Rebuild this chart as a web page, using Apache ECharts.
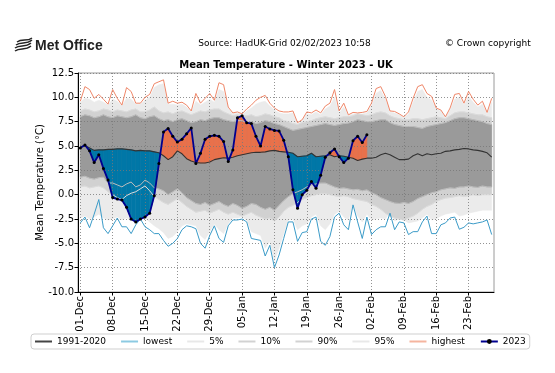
<!DOCTYPE html>
<html>
<head>
<meta charset="utf-8">
<script src="https://cdn.jsdelivr.net/npm/echarts@6/dist/echarts.min.js"></script>
<style>
html,body{margin:0;padding:0;background:#fff;}
#chart{width:555px;height:373px;}
</style>
</head>
<body>
<div id="chart"></div>
<script>
// ---------- DATA ----------
const monthNames = ['Dec', 'Jan', 'Feb'];
const monthLengths = [31, 31, 28];
const categories = [];
monthNames.forEach(function (m, k) {
  for (let d = 1; d <= monthLengths[k]; d++) categories.push((d < 10 ? '0' : '') + d + '-' + m);
});

const yTicks = [-10, -7.5, -5, -2.5, 0, 2.5, 5, 7.5, 10, 12.5];

// 1991-2020 average
const clim = [
  4.9, 5.05, 4.8, 4.55, 4.6, 4.6, 4.65, 4.65, 4.7, 4.7,
  4.65, 4.6, 4.5, 4.55, 4.5, 4.5, 4.4, 4.3, 4.0, 3.6,
  3.9, 4.5, 4.2, 3.7, 3.45, 3.3, 3.25, 3.25, 3.35, 3.6,
  3.7, 3.8, 3.75, 3.85, 4.0, 4.1, 4.2, 4.3, 4.35, 4.35,
  4.4, 4.5, 4.55, 4.45, 4.4, 4.35, 4.25, 3.9, 3.95, 4.0,
  4.25, 3.9, 3.95, 4.0, 4.1, 3.9, 4.0, 3.95, 3.85, 3.75,
  3.5, 3.65, 3.75, 3.75, 3.85, 4.1, 4.25, 4.1, 3.85, 3.6,
  3.6, 3.65, 4.0, 4.2, 4.0, 4.2, 4.1, 4.2, 4.25, 4.45,
  4.5, 4.6, 4.65, 4.75, 4.7, 4.6, 4.55, 4.45, 4.3, 3.85
];

// winter 2023 daily values (to 01-Feb)
const obs2023 = [
  4.8, 5.1, 4.5, 3.3, 4.1, 2.7, 1.5, -0.3, -0.45, -0.55,
  -1.3, -2.5, -2.8, -2.5, -2.3, -1.9, -0.1, 3.2, 6.45, 6.8,
  6.0, 5.4, 5.7, 6.25, 6.85, 3.2, 4.25, 5.7, 6.0, 6.1,
  6.0, 5.45, 3.4, 4.6, 7.9, 8.1, 7.4, 7.3, 6.0, 5.0,
  7.0, 6.75, 6.6, 6.55, 5.6, 3.9, 0.5, -1.4, 0.0, 0.45,
  1.35, 0.65, 2.0, 3.85, 4.3, 4.7, 3.9, 3.3, 3.75, 5.55,
  6.0, 5.35, 6.15
];

const highest = [
  9.6, 11.1, 10.8, 9.9, 10.3, 9.8, 9.3, 10.8, 9.9, 9.2,
  11.0, 10.6, 9.4, 9.4, 10.0, 10.3, 11.4, 11.6, 11.8, 9.4,
  9.6, 9.4, 9.5, 9.2, 8.6, 10.4, 9.4, 9.9, 10.4, 9.7,
  11.5, 11.3, 9.0, 8.4, 8.5, 8.3, 8.8, 9.2, 9.7, 10.0,
  10.2, 9.4, 8.9, 8.6, 8.5, 8.5, 8.6, 7.4, 7.7, 8.5,
  8.4, 8.7, 8.4, 9.1, 9.4, 10.8, 8.6, 9.4, 8.2, 8.45,
  8.4, 8.45, 8.55, 9.4, 10.9, 11.1, 10.1, 8.6, 8.55, 8.3,
  8.0, 8.5, 9.9, 11.1, 11.3, 10.4, 10.1, 8.9, 8.7, 8.0,
  8.9, 10.3, 10.4, 9.4, 10.6, 9.8, 9.2, 9.6, 8.45, 9.9
];

const lowest = [
  -2.9, -2.3, -3.4, -2.0, -0.5, -3.4, -4.0, -3.2, -2.4, -3.3,
  -3.3, -4.0, -3.1, -2.5, -3.3, -3.6, -4.0, -4.0, -4.7, -5.3,
  -5.0, -4.5, -3.6, -3.2, -3.3, -3.5, -5.0, -5.5, -4.2, -3.2,
  -4.5, -4.9, -3.2, -2.6, -2.6, -2.5, -2.8, -4.5, -4.6, -4.7,
  -6.3, -5.2, -7.5, -6.2, -4.5, -2.8, -2.8, -4.8, -3.9, -3.8,
  -2.5, -2.3, -4.8, -5.2, -4.3, -2.3, -1.9, -3.1, -3.6, -1.05,
  -2.8, -4.5, -2.3, -4.1, -3.6, -3.3, -3.3, -1.9, -3.6, -2.8,
  -2.9, -4.1, -3.8, -3.8, -2.8, -2.2, -4.0, -4.0, -3.1, -2.9,
  -2.4, -2.3, -3.55, -3.35, -2.9, -3.0, -2.9, -2.8, -2.6, -4.1
];

// outer (lightest) envelope
const rangeHigh = [
  9.5, 9.9, 9.8, 9.5, 9.7, 9.5, 9.2, 9.8, 9.6, 9.1,
  9.9, 9.8, 9.3, 9.3, 9.7, 10.0, 11.0, 11.3, 11.4, 9.3,
  9.3, 9.2, 9.3, 9.0, 8.5, 9.6, 9.2, 9.5, 9.8, 9.5,
  10.8, 10.6, 8.9, 8.3, 8.4, 8.2, 8.6, 8.9, 9.3, 9.5,
  9.6, 9.1, 8.7, 8.4, 8.3, 8.3, 8.4, 7.3, 7.6, 8.3,
  8.2, 8.5, 8.2, 8.8, 9.1, 10.0, 8.4, 9.0, 8.1, 8.3,
  8.3, 8.3, 8.4, 9.1, 10.4, 10.7, 9.8, 8.5, 8.4, 8.2,
  7.9, 8.3, 9.5, 10.6, 10.8, 10.0, 9.7, 8.8, 8.6, 7.9,
  8.7, 9.8, 10.0, 9.2, 10.1, 9.5, 9.0, 9.3, 8.3, 9.5
];
const rangeLow = [
  -2.4, -2.2, -2.5, -2.3, -2.0, -2.4, -2.6, -2.5, -2.3, -2.6,
  -2.4, -2.7, -2.5, -2.2, -2.4, -2.8, -3.2, -3.5, -3.9, -4.5,
  -4.3, -3.8, -3.2, -3.0, -3.1, -3.2, -4.2, -4.6, -3.8, -3.0,
  -3.6, -4.0, -3.0, -2.4, -2.4, -2.3, -2.6, -3.8, -4.0, -4.2,
  -5.5, -4.8, -6.8, -5.5, -4.0, -2.6, -2.5, -3.6, -3.2, -3.0,
  -2.3, -2.0, -3.2, -3.6, -3.0, -2.0, -1.7, -2.3, -2.6, -1.0,
  -2.2, -2.8, -2.0, -2.6, -2.5, -2.4, -2.5, -1.8, -2.7, -2.5,
  -2.6, -2.9, -2.8, -2.7, -2.4, -2.0, -2.6, -2.5, -2.2, -2.0,
  -1.9, -1.8, -2.2, -2.1, -1.9, -1.8, -1.7, -1.6, -1.6, -1.6
];

const p95 = [
  8.6, 8.8, 8.7, 8.5, 8.6, 8.8, 8.7, 8.5, 8.7, 8.6,
  8.5, 8.7, 8.8, 8.5, 8.5, 8.7, 9.0, 8.6, 8.4, 8.5,
  8.3, 8.5, 8.6, 8.4, 8.2, 8.4, 8.6, 8.5, 8.7, 8.8,
  8.8, 8.5, 8.3, 8.1, 8.2, 8.1, 8.1, 8.2, 8.0, 8.1,
  8.3, 8.2, 8.0, 7.9, 7.6, 7.5, 7.3, 7.2, 7.4, 7.5,
  7.6, 7.8, 7.9, 8.0, 7.9, 7.8, 7.9, 8.0, 8.0, 8.1,
  8.3, 8.2, 8.1, 8.2, 8.4, 8.5, 8.4, 8.1, 7.9, 7.8,
  7.7, 7.7, 7.8, 7.8, 7.7, 7.8, 7.9, 8.0, 7.9, 7.8,
  8.1, 8.4, 8.5, 8.5, 8.4, 8.3, 8.2, 8.2, 8.0, 7.9
];
const p90 = [
  8.0, 8.2, 8.1, 7.9, 8.0, 8.2, 8.0, 7.9, 8.1, 8.0,
  7.9, 8.0, 8.2, 7.9, 7.8, 8.0, 8.1, 7.8, 7.6, 7.7,
  7.5, 7.7, 7.8, 7.6, 7.4, 7.5, 7.7, 7.6, 7.8, 7.9,
  7.9, 7.7, 7.6, 7.5, 7.6, 7.6, 7.4, 7.5, 7.3, 7.4,
  7.6, 7.5, 7.3, 7.2, 7.0, 6.8, 6.6, 6.7, 6.8, 6.9,
  7.0, 7.1, 7.2, 7.3, 7.2, 7.1, 7.2, 7.3, 7.35, 7.5,
  7.7, 7.6, 7.5, 7.5, 7.6, 7.7, 7.7, 7.4, 7.2, 7.1,
  7.0, 7.0, 7.0, 6.9, 6.8, 7.0, 7.1, 7.2, 7.3, 7.4,
  7.6, 7.8, 7.9, 7.9, 7.8, 7.7, 7.6, 7.5, 7.3, 7.2
];
const p10 = [
  1.8, 1.9, 1.7, 1.6, 1.75, 1.8, 1.2, 1.2, 1.0, 0.8,
  1.1, 1.3, 0.8, 1.0, 1.5, 1.2, 0.7, 0.6, 0.4, 0.0,
  0.3, 0.6, 0.2, -0.3, -0.6, -0.9, -1.0, -0.8, -1.1, -0.9,
  -0.7, -1.0, -1.2, -0.9, -1.1, -1.4, -1.2, -0.9, -1.0, -1.3,
  -1.5, -1.3, -1.6, -1.1, -0.6, -0.2, 0.1, 0.3, 0.5, 0.8,
  1.0, 1.1, 1.2, 1.2, 1.0, 0.8, 0.65, 0.7, 0.6, 0.5,
  0.55, 0.4, 0.5, 0.2, 0.0, -0.3, -0.5, -0.7, -0.85, -0.9,
  -0.8, -0.9, -0.7, -0.4, -0.2, 0.0, 0.2, 0.3, 0.5, 0.6,
  0.7, 0.65, 0.8, 0.8, 0.9, 0.8, 0.75, 0.9, 0.8, 0.8
];
const p5 = [
  0.8, 0.9, 0.7, 0.8, 0.9, 0.7, 0.3, 0.0, -0.3, -0.5,
  -0.1, 0.15, 0.3, 0.6, 0.9, 0.4, -0.2, -0.5, -0.8, -1.0,
  -0.7, -0.4, -0.8, -1.2, -1.5, -1.8, -1.7, -1.6, -1.9, -1.7,
  -1.5, -1.8, -2.0, -1.8, -2.0, -2.2, -2.0, -1.8, -2.1, -2.3,
  -2.5, -2.4, -2.7, -2.3, -1.7, -1.3, -1.1, -0.8, -0.5, -0.3,
  -0.1, 0.0, 0.1, 0.1, 0.0, -0.1, -0.2, -0.1, -0.2, -0.4,
  -0.5, -0.6, -0.7, -1.0, -1.2, -1.5, -1.9, -2.2, -2.4, -2.5,
  -2.6, -2.4, -2.2, -1.9, -1.5, -1.2, -1.0, -0.7, -0.5, -0.35,
  -0.3, -0.2, -0.1, -0.2, -0.1, 0.0, -0.1, 0.0, 0.0, 0.0
];

// ---------- STYLE ----------
const FONT = '"DejaVu Sans", sans-serif';
const C_LIGHT = '#ebebeb', C_MED = '#d1d1d1', C_DARK = '#9a9a9a';
const C_WARM = '#e8714b', C_COLD = '#0077a7';
const LINE_ICON = 'path://M0,0H17V2H0Z';

function bandSeries(upper, lower, color) {
  return {
    type: 'custom', silent: true, z: 1, animation: false,
    data: [[0, upper[0]]],
    renderItem: function (params, api) {
      const pts = [];
      for (let i = 0; i < upper.length; i++) pts.push(api.coord([i, upper[i]]));
      for (let i = lower.length - 1; i >= 0; i--) pts.push(api.coord([i, lower[i]]));
      return { type: 'polygon', shape: { points: pts }, style: { fill: color, stroke: color, lineWidth: 0.5 } };
    }
  };
}

function lineSeries(name, data, color, width, z) {
  return {
    name: name, type: 'line', data: data, symbol: 'none', z: z, silent: true,
    lineStyle: { color: color, width: width }, itemStyle: { color: color }, animation: false
  };
}

function legendItem(name, color) {
  return { name: name, icon: LINE_ICON, itemStyle: { color: color, borderWidth: 0 } };
}

const anomalyData = obs2023.slice(0, -1).map(function (v, i) {
  return [i, v, clim[i], obs2023[i + 1], clim[i + 1]];
});

const chart = echarts.init(document.getElementById('chart'), null, { renderer: 'canvas' });

chart.setOption({
  animation: false,
  backgroundColor: '#fff',
  textStyle: { fontFamily: FONT },
  grid: { left: 78, right: 61, top: 73, bottom: 81, show: true, borderColor: '#9a9a9a', borderWidth: 1, backgroundColor: 'transparent' },
  xAxis: {
    type: 'category', data: categories, boundaryGap: true, z: 3,
    axisLine: { show: true, onZero: false, lineStyle: { color: '#000', width: 1 } },
    axisTick: { show: true, interval: 6, alignWithLabel: true, length: 3.5, lineStyle: { color: '#000' } },
    axisLabel: { interval: 6, rotate: 90, fontSize: 10, color: '#000', fontFamily: FONT, margin: 4 },
    splitLine: { show: true, interval: 6, alignWithLabel: true, lineStyle: { color: '#777', width: 0.8, type: [1, 2] } }
  },
  yAxis: {
    type: 'value', min: yTicks[0], max: yTicks[yTicks.length - 1], interval: 2.5, z: 3,
    name: 'Mean Temperature (\u00b0C)', nameLocation: 'middle', nameGap: 33, nameMoveOverlap: false,
    nameTextStyle: { fontSize: 10, color: '#000', fontFamily: FONT },
    axisLine: { show: true, lineStyle: { color: '#000', width: 1 } },
    axisTick: { show: true, length: 3.5, lineStyle: { color: '#000' } },
    axisLabel: { fontSize: 10, color: '#000', fontFamily: FONT, margin: 4, formatter: function (v) { return v.toFixed(1); } },
    splitLine: { show: true, lineStyle: { color: '#777', width: 0.8, type: [1, 2] } }
  },
  legend: {
    left: 31, top: 334, itemWidth: 17, itemHeight: 6, itemGap: 15, padding: [3, 4],
    backgroundColor: '#fff', borderColor: '#cfcfcf', borderWidth: 1, borderRadius: 3,
    textStyle: { fontSize: 9, color: '#000', fontFamily: FONT },
    selectedMode: false,
    data: [
      legendItem('1991-2020', '#444444'),
      legendItem('lowest', '#8ccae2'),
      legendItem('5%', '#e8e8e8'),
      legendItem('10%', '#d2d2d2'),
      legendItem('90%', '#d2d2d2'),
      legendItem('95%', '#e8e8e8'),
      legendItem('highest', '#f5b59f'),
      { name: '2023' }
    ]
  },
  graphic: [
    { type: 'bezierCurve', shape: { x1: 15, y1: 51, cpx1: 20, cpy1: 47, cpx2: 25, cpy2: 51, x2: 31, y2: 46 }, style: { stroke: '#222', lineWidth: 1.5, fill: null } },
    { type: 'bezierCurve', shape: { x1: 15, y1: 48, cpx1: 20, cpy1: 44, cpx2: 25, cpy2: 48, x2: 31, y2: 43 }, style: { stroke: '#222', lineWidth: 1.5, fill: null } },
    { type: 'bezierCurve', shape: { x1: 16, y1: 45, cpx1: 21, cpy1: 41, cpx2: 26, cpy2: 45, x2: 32, y2: 40 }, style: { stroke: '#222', lineWidth: 1.5, fill: null } },
    { type: 'bezierCurve', shape: { x1: 17, y1: 42, cpx1: 22, cpy1: 38, cpx2: 27, cpy2: 42, x2: 32, y2: 38 }, style: { stroke: '#222', lineWidth: 1.5, fill: null } },
    { type: 'text', x: 35, y: 46, style: { text: 'Met Office', fill: '#222', font: 'bold 14px "Liberation Sans", sans-serif', verticalAlign: 'middle', textVerticalAlign: 'middle' } },
    { type: 'text', x: 284.5, y: 44, style: { text: 'Source: HadUK-Grid 02/02/2023 10:58', fill: '#000', font: '9px "DejaVu Sans", sans-serif', align: 'center', textAlign: 'center', verticalAlign: 'middle', textVerticalAlign: 'middle' } },
    { type: 'text', x: 445, y: 44, style: { text: '\u00a9 Crown copyright', fill: '#000', font: '9px "DejaVu Sans", sans-serif', verticalAlign: 'middle', textVerticalAlign: 'middle' } },
    { type: 'text', x: 286, y: 65, style: { text: 'Mean Temperature - Winter 2023 - UK', fill: '#000', font: 'bold 10px "DejaVu Sans", sans-serif', align: 'center', textAlign: 'center', verticalAlign: 'middle', textVerticalAlign: 'middle' } }
  ],
  series: [
    bandSeries(rangeHigh, rangeLow, C_LIGHT),
    bandSeries(p95, p5, C_MED),
    bandSeries(p90, p10, C_DARK),
    {
      type: 'custom', silent: true, z: 2, animation: false,
      data: anomalyData,
      renderItem: function (params, api) {
        const i = api.value(0);
        const o0 = api.value(1), m0 = api.value(2), o1 = api.value(3), m1 = api.value(4);
        const O0 = api.coord([i, o0]), M0 = api.coord([i, m0]);
        const O1 = api.coord([i + 1, o1]), M1 = api.coord([i + 1, m1]);
        const d0 = o0 - m0, d1 = o1 - m1;
        function poly(pts, d) {
          const c = d >= 0 ? C_WARM : C_COLD;
          return { type: 'polygon', shape: { points: pts }, style: { fill: c, stroke: c, lineWidth: 0.6 } };
        }
        if (d0 * d1 >= 0) {
          return poly([O0, O1, M1, M0], d0 + d1);
        }
        const t = d0 / (d0 - d1);
        const C = [O0[0] + t * (O1[0] - O0[0]), O0[1] + t * (O1[1] - O0[1])];
        return { type: 'group', children: [poly([O0, C, M0], d0), poly([C, O1, M1], d1)] };
      }
    },
    lineSeries('5%', p5, '#dcdcdc', 1, 4),
    lineSeries('10%', p10, '#bdbdbd', 1, 4),
    lineSeries('90%', p90, '#bdbdbd', 1, 4),
    lineSeries('95%', p95, '#dcdcdc', 1, 4),
    lineSeries('lowest', lowest, '#3b9bc8', 1, 5),
    lineSeries('highest', highest, '#ef8769', 1, 5),
    lineSeries('1991-2020', clim, '#333333', 1.1, 6),
    {
      name: '2023', type: 'line', data: obs2023, z: 7, silent: true, animation: false,
      symbol: 'circle', symbolSize: 3, showSymbol: true,
      itemStyle: { color: '#000' },
      lineStyle: { color: '#00008f', width: 1.8 }
    }
  ]
});
</script>
</body>
</html>
